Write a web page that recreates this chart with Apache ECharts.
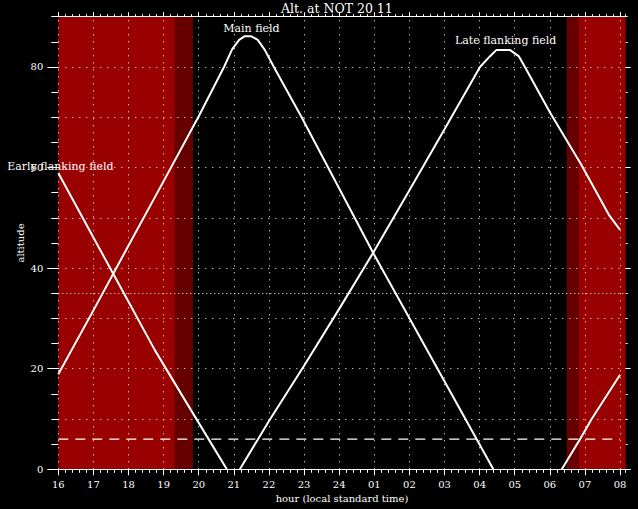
<!DOCTYPE html>
<html><head><meta charset="utf-8">
<script src="https://cdn.jsdelivr.net/npm/echarts@6/dist/echarts.min.js"></script>
<style>html,body{margin:0;padding:0;background:#000}#c{width:638px;height:509px}</style>
</head><body><div id="c"></div>
<script>
// ---- data ----
const hourLabels = ['16','17','18','19','20','21','22','23','24','01','02','03','04','05','06','07','08'];
const hourTicks = [16,17,18,19,20,21,22,23,24,25,26,27,28,29,30,31,32];
const altTicks = [0,20,40,60,80];
const gridAlts = [10,20,30,40,50,60,70,80];
const airmassAlt = [35];
const horizonAlt = 6;
const horizonSpan = [16, 32];

const seriesNames = ['Main field','Late flanking field','Early flanking field'];

const mainHours = [16.0,17.0,18.0,19.0,20.0,20.72,20.95,21.15,21.3,21.5,21.68,21.88,22.14,22.93,24.97,26.8,28.39];
const mainAlt   = [18.9,31.6,44.5,57.3,70.2,80,83.5,85.4,86.1,86.1,85.4,83.4,80,70,43,20,0];

const lateHours = [21.17,22.0,23.0,24.0,24.98,26.0,27.0,28.01,28.29,28.48,28.86,29.12,29.29,30.0,30.9,31.68,32.0];
const lateAlt   = [0,9.6,20.6,31.9,43.2,55.5,67.6,80,82.1,83.4,83.4,82.1,80,71,60.5,50.6,47.6];

const earlyHours = [16.0,17.0,18.0,18.75,19.5,20.28,20.8];
const earlyAlt   = [58.9,46.1,33.3,23.7,15,6,0];
const early2Hours = [30.34,30.86,31.19,32.0];
const early2Alt   = [0,6,10,18.8];

const bandStart = [16, 19.32, 30.48, 30.83];
const bandEnd   = [19.32, 19.835, 30.83, 32.16];
const bandKind  = ['light','dark','dark','light'];

const labelPos = { 'Main field':[21.5,87.6], 'Late flanking field':[28.74,85.2], 'Early flanking field':[16.06,60.2] };

// ---- chart ----
const FONT = 'DejaVu Serif';
const WHITE = '#ffffff';
const shade = { light:'#990000', dark:'#660000' };
const XMIN = 16, XMAX = 32.16, YMIN = 0, YMAX = 90;

const pairs = (xs, ys) => xs.map((x,i)=>[x, ys[i]]);
const txt = (size) => ({ color: WHITE, fontFamily: FONT, fontSize: size, fontWeight: 'normal' });

function xAx(pos, interval, tickLen, main) {
  return {
    type:'value', min:XMIN, max:XMAX, interval, position:pos, z:5,
    axisLine:{ show: main, onZero:false, lineStyle:{ color:WHITE, width:1 } },
    axisTick:{ show:true, length:tickLen, lineStyle:{ color:WHITE, width:1 }, ...(main ? {customValues: hourTicks} : {}) },
    axisLabel: (main && pos==='bottom') ? Object.assign({ show:true, margin:10, customValues: hourTicks,
      formatter: v => { const i = Math.round(v - 16); return Math.abs(v-16-i) < 1e-6 && hourLabels[i] !== undefined ? hourLabels[i] : ''; } }, txt(10)) : { show:false },
    splitLine:{ show:false },
    ...(main && pos==='bottom' ? { name:'hour (local standard time)', nameLocation:'middle', nameGap:24, nameMoveOverlap:false, nameTextStyle: txt(10) } : {})
  };
}
function yAx(pos, interval, tickLen, main, labels) {
  return {
    type:'value', min:YMIN, max:YMAX, interval, position:pos, z:5,
    axisLine:{ show:false },
    axisTick:{ show:true, length:tickLen, lineStyle:{ color:WHITE, width:1 }, ...(main ? {customValues: altTicks} : {}) },
    axisLabel: labels ? Object.assign({ show:true, margin:15, customValues: altTicks,
      formatter: v => (altTicks.indexOf(v) >= 0 ? String(v) : '') }, txt(10)) : { show:false },
    splitLine:{ show:false },
    ...(labels ? { name:'altitude', nameLocation:'middle', nameRotate:90, nameGap:33, nameMoveOverlap:false, nameTextStyle: txt(10) } : {})
  };
}

function curve(name, xs, ys, withLabel) {
  const s = {
    type:'line', name, data: pairs(xs, ys), showSymbol:false, symbol:'none', z:3,
    lineStyle:{ color:WHITE, width:2 }, xAxisIndex:0, yAxisIndex:0, clip:true
  };
  if (withLabel) {
    s.markPoint = { symbol:'circle', symbolSize:0, silent:true,
      label:Object.assign({ show:true, position:'inside', formatter: name }, txt(11)),
      data:[{ coord: labelPos[name], value: name }] };
  }
  return s;
}

const gridMarks = [
  ...gridAlts.map(v => ({ yAxis:v, lineStyle:{ type:[1,6], color:WHITE, width:1 } })),
  ...airmassAlt.map(v => ({ yAxis:v, lineStyle:{ type:[1,3], color:WHITE, width:1 } })),
  ...hourTicks.map(h => ({ xAxis:h, lineStyle:{ type:[1,6], color:WHITE, width:1 } }))
];

const option = {
  backgroundColor:'#000000',
  animation:false,
  title:{ text:'Alt. at NOT 20 11', left:276, top:-3, textStyle: txt(12.5) },
  grid:{ left:58.3, right:12.3, top:16.7, bottom:39.7, containLabel:false },
  xAxis:[ xAx('bottom',1,6,true), xAx('bottom',0.2,3.5,false), xAx('top',1,4.5,true), xAx('top',0.2,2.5,false) ],
  yAxis:[ yAx('left',20,11,true,true), yAx('left',5,7,false,false), yAx('right',20,5,true,false), yAx('right',5,2,false,false) ],
  series:[
    { type:'line', name:'twilight', data:[], z:1, xAxisIndex:0, yAxisIndex:0,
      markArea:{ silent:true, data: bandStart.map((s,i)=>[ { xAxis:s, itemStyle:{ color: shade[bandKind[i]], opacity:1 } }, { xAxis: bandEnd[i] } ]) } },
    { type:'line', name:'grid', data:[], z:2, xAxisIndex:0, yAxisIndex:0,
      markLine:{ silent:true, symbol:['none','none'], label:{ show:false }, data: gridMarks } },
    { type:'line', name:'horizon', data: horizonSpan.map(h => [h, horizonAlt]), showSymbol:false, symbol:'none', z:3,
      lineStyle:{ color:WHITE, width:1.2, type:[10,7] } },
    curve(seriesNames[0], mainHours, mainAlt, true),
    curve(seriesNames[1], lateHours, lateAlt, true),
    curve(seriesNames[2], earlyHours, earlyAlt, true),
    curve(seriesNames[2], early2Hours, early2Alt, false)
  ]
};

const chart = echarts.init(document.getElementById('c'), null, { renderer:'svg' });
chart.setOption(option);
</script>
</body></html>
